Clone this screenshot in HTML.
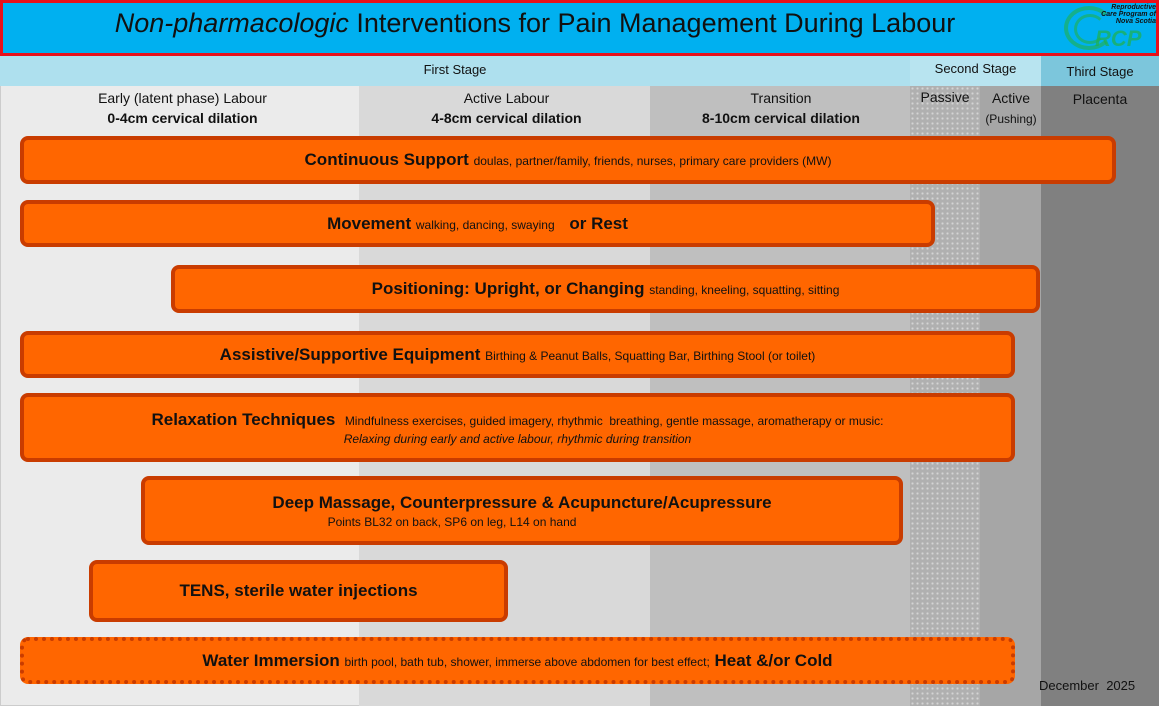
<!DOCTYPE html>
<html><head><meta charset="utf-8"><style>
*{margin:0;padding:0;box-sizing:border-box}
body{width:1159px;height:707px;position:relative;background:#fff;font-family:"Liberation Sans",sans-serif;overflow:hidden;color:#111}
.a{position:absolute}
.bar{position:absolute;background:#ff6600;border:4px solid #c93c00;border-radius:8px;display:flex;flex-direction:column;justify-content:center;align-items:center;text-align:center;font-family:"Liberation Sans",sans-serif}
.t{font-weight:bold;font-size:17px}
.s{font-size:12px;font-weight:normal}
.hd{font-size:14px;text-align:center;line-height:20px}
</style></head><body>
<div class="a" style="left:0;top:86px;width:359px;height:620px;background:#ebebeb;border-left:1px solid #ccc;border-bottom:1px solid #ccc"></div>
<div class="a" style="left:359px;top:86px;width:291px;height:620px;background:#d9d9d9"></div>
<div class="a" style="left:650px;top:86px;width:260px;height:620px;background:#bfbfbf"></div>
<div class="a" style="left:910px;top:86px;width:70px;height:620px;background:#b0b0b0;background-image:radial-gradient(#d4d4d4 1px,transparent 1.2px);background-size:5px 5px"></div>
<div class="a" style="left:980px;top:86px;width:61px;height:620px;background:#a6a6a6"></div>
<div class="a" style="left:1041px;top:86px;width:118px;height:620px;background:#808080"></div>
<div class="a" style="left:0;top:56px;width:910px;height:30px;background:#aee0ee"></div>
<div class="a" style="left:910px;top:56px;width:131px;height:30px;background:#b8e4f0"></div>
<div class="a" style="left:1041px;top:56px;width:118px;height:30px;background:#7cc6dc"></div>
<div class="a hd" style="left:0;top:60px;width:910px;font-size:13px">First Stage</div>
<div class="a hd" style="left:910px;top:59px;width:131px;font-size:13px">Second Stage</div>
<div class="a hd" style="left:1041px;top:62px;width:118px;font-size:13px">Third Stage</div>
<div class="a" style="left:0;top:0;width:1159px;height:56px;background:#00b0f0;border:3px solid #e8101a"></div>
<div class="a" style="left:0;top:8px;width:1070px;text-align:center;font-size:27px;font-family:'Liberation Sans',sans-serif"><i>Non-pharmacologic</i> Interventions for Pain Management During Labour</div>
<div class="a" style="left:1064px;top:6px;width:50px;height:44px;border:4px solid #22b04a;border-radius:50%;opacity:.6;border-right-color:transparent"></div>
<div class="a" style="left:1074px;top:14px;width:32px;height:30px;border:3px solid #22b04a;border-radius:50%;opacity:.6;border-right-color:transparent"></div>
<div class="a" style="left:1100px;top:4px;font-size:7px;font-style:italic;font-weight:bold;line-height:7px;text-align:right;width:56px">Reproductive Care Program of Nova Scotia</div>
<div class="a" style="left:1095px;top:26px;font-size:22px;font-weight:bold;font-style:italic;color:#22b04a;opacity:.7">RCP</div>
<div class="a hd" style="left:0;top:88px;width:365px">Early (latent phase) Labour<br><b>0-4cm cervical dilation</b></div>
<div class="a hd" style="left:359px;top:88px;width:295px">Active Labour<br><b>4-8cm cervical dilation</b></div>
<div class="a hd" style="left:650px;top:88px;width:262px">Transition<br><b>8-10cm cervical dilation</b></div>
<div class="a hd" style="left:912px;top:87px;width:66px">Passive</div>
<div class="a hd" style="left:980px;top:88px;width:62px">Active<br><span style="font-size:12px">(Pushing)</span></div>
<div class="a hd" style="left:1041px;top:89px;width:118px">Placenta</div>
<div class="bar" style="left:20px;top:136px;width:1096px;height:48px"><div class="t">Continuous Support <span class="s">doulas, partner/family, friends, nurses, primary care providers (MW)</span></div></div>
<div class="bar" style="left:20px;top:200px;width:915px;height:47px"><div class="t">Movement <span class="s">walking, dancing, swaying&nbsp;&nbsp;&nbsp;</span> or Rest</div></div>
<div class="bar" style="left:171px;top:265px;width:869px;height:48px"><div class="t">Positioning: Upright, or Changing <span class="s">standing, kneeling, squatting, sitting</span></div></div>
<div class="bar" style="left:20px;top:331px;width:995px;height:47px"><div class="t">Assistive/Supportive Equipment <span class="s">Birthing &amp; Peanut Balls, Squatting Bar, Birthing Stool (or toilet)</span></div></div>
<div class="bar" style="left:20px;top:393px;width:995px;height:69px"><div class="t">Relaxation Techniques&nbsp; <span class="s">Mindfulness exercises, guided imagery, rhythmic&nbsp; breathing, gentle massage, aromatherapy or music:</span></div><div class="s" style="font-style:italic;margin-top:2px">Relaxing during early and active labour, rhythmic during transition</div></div>
<div class="bar" style="left:141px;top:476px;width:762px;height:69px"><div class="t">Deep Massage, Counterpressure &amp; Acupuncture/Acupressure</div><div class="s" style="margin-top:2px;margin-right:140px">Points BL32 on back, SP6 on leg, L14 on hand</div></div>
<div class="bar" style="left:89px;top:560px;width:419px;height:62px"><div class="t">TENS, sterile water injections</div></div>
<div class="bar" style="left:20px;top:637px;width:995px;height:47px;border-style:dotted"><div class="t">Water Immersion <span class="s">birth pool, bath tub, shower, immerse above abdomen for best effect;</span> Heat &amp;/or Cold</div></div>
<div class="a" style="left:1039px;top:678px;font-size:13px;font-family:'Liberation Sans',sans-serif">December&nbsp; 2025</div>
</body></html>
